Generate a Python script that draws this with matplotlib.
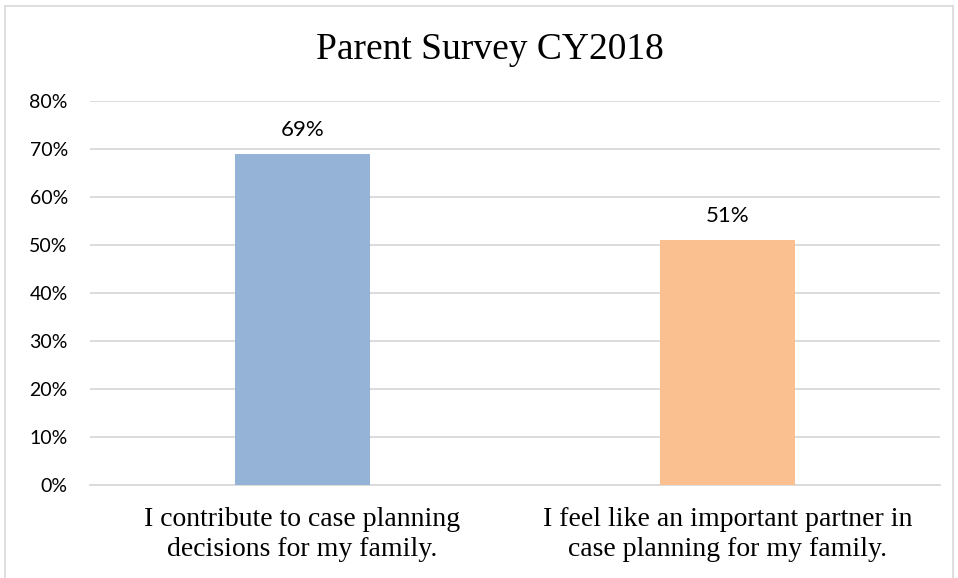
import matplotlib
matplotlib.use('Agg')
import matplotlib.pyplot as plt
from matplotlib.lines import Line2D
from matplotlib.ticker import PercentFormatter

categories = ['I contribute to case planning\ndecisions for my family.',
              'I feel like an important partner in\ncase planning for my family.']
values = [69, 51]
bar_colors = ['#95B3D7', '#FAC090']
yticks = [0, 10, 20, 30, 40, 50, 60, 70, 80]

W, H = 958, 578
fig = plt.figure(figsize=(W / 100, H / 100), dpi=100)
ax = fig.add_axes([90 / W, 1 - 485 / H, 850 / W, 384 / H])

x = list(range(len(values)))
ax.bar(x, values, width=0.318, color=bar_colors, zorder=3)
for xi, v in zip(x, values):
    ax.text(xi, v + 3.7, f'{v}%', ha='center', va='baseline',
            fontsize=16, family='Lato', color='#000000')

ax.set_xlim(-0.5, 1.5)
ax.set_ylim(0, 80)
ax.set_yticks(yticks)
ax.yaxis.set_major_formatter(PercentFormatter(decimals=0))
ax.grid(axis='y', color='#D9D9D9', linewidth=1.3, zorder=0)
ax.tick_params(axis='y', length=0, pad=16, labelsize=14, labelcolor='#000000')
ax.tick_params(axis='x', length=0, pad=16)
for lab in ax.get_yticklabels():
    lab.set_family('Lato')
ax.set_xticks(x)
ax.set_xticklabels(categories, family='Liberation Serif', fontsize=20,
                   linespacing=1.25)
for s in ['top', 'right', 'left']:
    ax.spines[s].set_visible(False)
ax.spines['bottom'].set_color('#D9D9D9')
ax.spines['bottom'].set_linewidth(1.3)

fig.text(490 / W, 1 - 59 / H, 'Parent Survey CY2018', ha='center', va='baseline',
         family='Liberation Serif', fontsize=27)

# chart border
bc = '#D9D9D9'
l, r, t = 4.5 / W, 952.5 / W, 1 - 5.5 / H
fig.add_artist(Line2D([l, r], [t, t], color=bc, lw=1.2, transform=fig.transFigure))
fig.add_artist(Line2D([l, l], [0, t], color=bc, lw=1.2, transform=fig.transFigure))
fig.add_artist(Line2D([r, r], [0, t], color=bc, lw=1.2, transform=fig.transFigure))

fig.savefig('out.png', dpi=100)
